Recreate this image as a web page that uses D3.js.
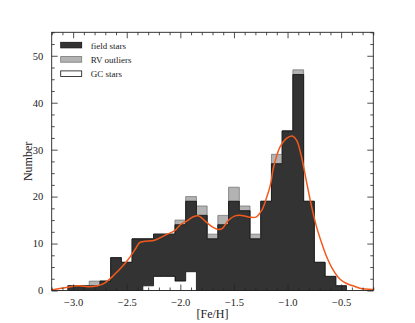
<!DOCTYPE html>
<html><head><meta charset="utf-8">
<script src="https://cdn.jsdelivr.net/npm/d3@7"></script>
<style>
body{margin:0;background:#fff;}
text{font-family:"Liberation Serif","Times New Roman",serif;}
</style></head>
<body><svg id="c" width="415" height="323"></svg>
<script>
// ---- data ----
const binCenters = [-3.0,-2.9,-2.8,-2.7,-2.6,-2.5,-2.4,-2.3,-2.2,-2.1,-2.0,-1.9,-1.8,-1.7,-1.6,-1.5,-1.4,-1.3,-1.2,-1.1,-1.0,-0.9,-0.8,-0.7,-0.6,-0.5];
const binWidth = 0.1;
const gcCounts    = [0,0,0,0,0,0,0,1,3,3,2,4,0,0,0,0,0,0,0,0,0,0,0,0,0,0];
const fieldCounts = [1,1,1,2,7,6,11,10,9,9,12,15,16,11,14,19,17,11,19,27,34,46,19,6,3,1];
const rvCounts    = [0,0,1,0,0,0,0,0,0,0,1,1,2,1,2,3,1,1,0,2,0,1,0,0,0,0];
const kdeFeH   = [-3.20,-3.05,-2.95,-2.86,-2.77,-2.72,-2.67,-2.61,-2.55,-2.49,-2.42,-2.38,-2.33,-2.24,-2.14,-2.05,-2.00,-1.94,-1.88,-1.83,-1.755,-1.69,-1.645,-1.61,-1.55,-1.49,-1.43,-1.35,-1.29,-1.24,-1.195,-1.16,-1.13,-1.07,-1.01,-0.955,-0.915,-0.87,-0.82,-0.775,-0.73,-0.68,-0.635,-0.575,-0.51,-0.45,-0.39,-0.325,-0.20];
const kdeCount = [0.1,0.7,1.0,0.8,1.0,1.4,2.2,3.5,4.9,6.5,8.8,10.2,10.5,10.7,11.8,12.8,14.0,14.8,15.7,15.9,14.5,13.4,13.0,13.2,15.0,15.9,16.0,15.6,15.7,17.1,19.8,22.5,26.3,30.6,32.4,32.9,32.0,28.5,22.8,17.8,13.6,10.0,7.2,4.4,2.4,1.5,1.0,0.5,0.2];
const xMajorTicks = [-3.0,-2.5,-2.0,-1.5,-1.0,-0.5];
const yMajorTicks = [0,10,20,30,40,50];
const legendLabels = ["field stars","RV outliers","GC stars"];

// ---- layout ----
const L=51.7,R=373.3,T=32.3,B=290.5;
const svg=d3.select("#c");
const x=d3.scaleLinear([-3.2,-0.2],[L,R]);
const y=d3.scaleLinear([0,55],[B,T]);

const rows=binCenters.map((c,i)=>({c,gc:gcCounts[i],field:fieldCounts[i],rv:rvCounts[i]}));
const keys=["gc","field","rv"];
const stack=d3.stack().keys(keys)(rows);
const fills={gc:"#ffffff",field:"#333333",rv:"#b3b3b3"};
const strokes={gc:"#111",field:"#111",rv:"#777"};

svg.append("clipPath").attr("id","clp").append("rect").attr("x",L).attr("y",T).attr("width",R-L).attr("height",B-T);
const plot=svg.append("g").attr("clip-path","url(#clp)");

const area=d3.area().x(d=>x(d.x)).y0(d=>y(d.y0)).y1(d=>y(d.y1));
const byKey={};
stack.forEach(layer=>{byKey[layer.key]=layer;});
["rv","field","gc"].forEach(k=>{
  const pts=[];
  byKey[k].forEach(d=>{
    pts.push({x:d.data.c-binWidth/2,y0:d[0],y1:d[1]});
    pts.push({x:d.data.c+binWidth/2,y0:d[0],y1:d[1]});
  });
  plot.append("path").attr("d",area(pts)).attr("fill",fills[k]).attr("stroke",strokes[k]).attr("stroke-width",0.8).attr("stroke-linejoin","miter");
});

const line=d3.line().x(d=>x(d[0])).y(d=>y(d[1])).curve(d3.curveCatmullRom.alpha(0.5));
plot.append("path").datum(kdeFeH.map((v,i)=>[v,kdeCount[i]]))
  .attr("d",line).attr("fill","none").attr("stroke","#f25a1c").attr("stroke-width",1.5);

// ---- axes ----
const xMinor=d3.range(-3.2,-0.15,0.1).map(v=>+v.toFixed(2)).filter(v=>!xMajorTicks.some(m=>Math.abs(m-v)<1e-6));
const yMinor=d3.range(0,55.1,2.5).filter(v=>!yMajorTicks.includes(v));
const fmt=d3.format(".1f");

function styleAxis(g){
  g.selectAll(".domain").remove();
  g.selectAll("line").attr("stroke","#222").attr("stroke-width",0.8);
  g.selectAll("text").attr("font-family","Liberation Serif, serif").attr("font-size",10.5).attr("fill","#222");
}
svg.append("g").attr("transform",`translate(0,${B})`).call(d3.axisBottom(x).tickValues(xMajorTicks).tickSize(-6).tickPadding(8).tickFormat(fmt)).call(styleAxis);
svg.append("g").attr("transform",`translate(0,${B})`).call(d3.axisBottom(x).tickValues(xMinor).tickSize(-3).tickFormat("")).call(styleAxis);
svg.append("g").attr("transform",`translate(0,${T})`).call(d3.axisTop(x).tickValues(xMajorTicks).tickSize(-6).tickFormat("")).call(styleAxis);
svg.append("g").attr("transform",`translate(0,${T})`).call(d3.axisTop(x).tickValues(xMinor).tickSize(-3).tickFormat("")).call(styleAxis);
svg.append("g").attr("transform",`translate(${L},0)`).call(d3.axisLeft(y).tickValues(yMajorTicks).tickSize(-6).tickPadding(8.5).tickFormat(d3.format("d"))).call(styleAxis);
svg.append("g").attr("transform",`translate(${L},0)`).call(d3.axisLeft(y).tickValues(yMinor).tickSize(-3).tickFormat("")).call(styleAxis);
svg.append("g").attr("transform",`translate(${R},0)`).call(d3.axisRight(y).tickValues(yMajorTicks).tickSize(-6).tickFormat("")).call(styleAxis);
svg.append("g").attr("transform",`translate(${R},0)`).call(d3.axisRight(y).tickValues(yMinor).tickSize(-3).tickFormat("")).call(styleAxis);

svg.append("rect").attr("x",L).attr("y",T).attr("width",R-L).attr("height",B-T).attr("fill","none").attr("stroke","#222").attr("stroke-width",0.9);

svg.append("text").attr("x",(L+R)/2).attr("y",317.5).attr("text-anchor","middle").attr("font-size",12).attr("fill","#222").text("[Fe/H]");
svg.append("text").attr("transform",`translate(31.5,${(T+B)/2}) rotate(-90)`).attr("text-anchor","middle").attr("font-size",12).attr("fill","#222").text("Number");

// ---- legend ----
const lg=svg.append("g");
legendLabels.forEach((t,i)=>{
  const k=["field","rv","gc"][i];
  const yy=42.3+i*14.3;
  lg.append("rect").attr("x",60.7).attr("y",yy).attr("width",21).attr("height",5.6).attr("fill",fills[k]).attr("stroke",strokes[k]).attr("stroke-width",0.8);
  lg.append("text").attr("x",90.7).attr("y",yy+6.4).attr("font-size",9).attr("fill","#222").text(t);
});
</script></body></html>
